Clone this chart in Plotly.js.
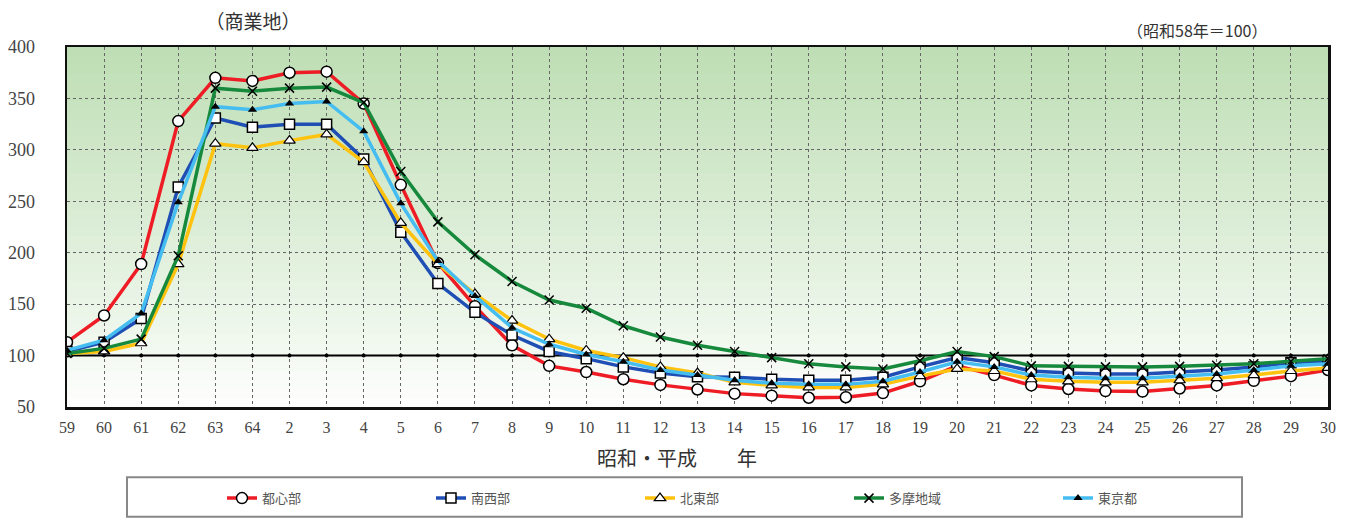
<!DOCTYPE html>
<html>
<head>
<meta charset="utf-8">
<script src="https://cdn.plot.ly/plotly-3.0.1.min.js"></script>
<style>
html,body{margin:0;padding:0;background:#fff;}
#chart{width:1349px;height:525px;}
</style>
</head>
<body>
<div id="chart"></div>
<script>
// Year labels (昭和59 … 平成30)
const categories = ['59','60','61','62','63','64','2','3','4','5','6','7','8','9','10','11','12','13','14','15','16','17','18','19','20','21','22','23','24','25','26','27','28','29','30'];

// 都心部
const toshinbu = [113,139,189,328,370,367,375,376,345,266,190,148,110,90,84,77,71.5,67,63,61,59,59.5,63.5,75,90,81,71,67.5,65.5,65,68,71,75.5,80,86];
// 南西部
const nanseibu = [104,113,136,264,331,322,325,325,291,220,170,142,120,104,97,89,83,79.5,79,77,76,76,79,89,98,93,85,83,82,82,84,86,89,93,95];
// 北東部
const hokutobu = [102,104,112,189,306,302,309,315,288,229,189,160,134,116,105,98,89,83,74,71,69,69,72,80,87,85,77,75,74,74,76,78,81,85,88];
// 多摩地域
const tama = [102,107,116,197,360,357,360,361,346,279,230,198,172,154,146,129,118,110,104,98,92,89,87,95,104,99,90,89.5,89,89,89.5,90.5,92,94.5,97];
// 東京都
const tokyo = [105,115,141,249,342,339,345,347,318,248,192,158,127,111,101,94,86,81,76,73,72,72,75,84,94,89,81,79,78,78,80,82,86,90,92];
// 基準（昭和58年＝100）
const baseline = [100,100,100,100,100,100,100,100,100,100,100,100,100,100,100,100,100,100,100,100,100,100,100,100,100,100,100,100,100,100,100,100,100,100,100];

const seriesNames = ['都心部','南西部','北東部','多摩地域','東京都'];

const traces = [
  {x:categories, y:baseline, mode:'lines+markers', showlegend:false, hoverinfo:'skip',
   line:{color:'#000', width:2}, marker:{color:'#000', size:4}},
  {x:categories, y:toshinbu, name:seriesNames[0], mode:'lines+markers',
   line:{color:'#ee1c24', width:3.5},
   marker:{symbol:'circle', size:11, color:'#fff', line:{color:'#000', width:1.5}}},
  {x:categories, y:nanseibu, name:seriesNames[1], mode:'lines+markers',
   line:{color:'#1f4fb4', width:3.5},
   marker:{symbol:'square', size:10, color:'#fff', line:{color:'#000', width:1.5}}},
  {x:categories, y:hokutobu, name:seriesNames[2], mode:'lines+markers',
   line:{color:'#ffc20e', width:3.5},
   marker:{symbol:'triangle-up', size:10, color:'#fff', line:{color:'#000', width:1.2}}},
  {x:categories, y:tama, name:seriesNames[3], mode:'lines+markers',
   line:{color:'#16893c', width:3.5},
   marker:{symbol:'x-thin', size:9, color:'#000', line:{color:'#000', width:1.5}}},
  {x:categories, y:tokyo, name:seriesNames[4], mode:'lines+markers',
   line:{color:'#45bdf0', width:3.5},
   marker:{symbol:'triangle-up', size:8, color:'#000', line:{color:'#000', width:0}}}
];

// gradient background (green at top fading to white)
const shapes = [];
const N = 40;
for (let i = 0; i < N; i++) {
  const t = (i + 0.5) / N; // 0 bottom .. 1 top
  const f = Math.pow(t, 0.9);
  const r = Math.round(255 + (190 - 255) * f);
  const g = Math.round(255 + (222 - 255) * f);
  const b = Math.round(255 + (180 - 255) * f);
  shapes.push({type:'rect', xref:'x domain', yref:'y domain', x0:0, x1:1, y0:i/N, y1:(i+1)/N,
    fillcolor:`rgb(${r},${g},${b})`, line:{width:0}, layer:'below'});
}
// legend frame (pixel positions converted to paper coordinates)
const px = v => (v - 67) / 1261;
const py = v => (411 - v) / 364;
shapes.push({type:'rect', xref:'paper', yref:'paper', x0:px(127), x1:px(1242), y0:py(482), y1:py(522),
  line:{color:'#888', width:2}, fillcolor:'rgba(0,0,0,0)', layer:'above'});

const serif = '"Liberation Serif","DejaVu Serif",serif';
const cjk = '"Noto Sans CJK JP","Noto Sans CJK SC",sans-serif';

const layout = {
  width:1349, height:525,
  margin:{l:67, r:21, t:47, b:114},
  paper_bgcolor:'#fff', plot_bgcolor:'#fff',
  title:{text:'（商業地）', x:253/1349, xanchor:'center', xref:'container', y:1-22/525, yanchor:'middle',
    yref:'container', font:{family:cjk, size:19, color:'#333'}},
  showlegend:true,
  legend:{orientation:'h', x:px(222), xanchor:'left', y:py(488), yanchor:'top',
    entrywidth:164, entrywidthmode:'pixels',
    borderwidth:0, bgcolor:'rgba(0,0,0,0)',
    font:{family:cjk, size:13, color:'#555'}, itemwidth:30,
    traceorder:'normal'},
  xaxis:{type:'category', range:[0,34], showgrid:true, gridcolor:'#666', griddash:'dot', gridwidth:1,
    showline:true, mirror:true, linecolor:'#111', linewidth:2.5, ticks:'', zeroline:false,
    tickfont:{family:serif, size:16, color:'#444'}, ticklabelstandoff:4},
  yaxis:{range:[50,400], tickvals:[50,100,150,200,250,300,350,400], showgrid:true, gridcolor:'#666',
    griddash:'dot', gridwidth:1, showline:true, mirror:true, linecolor:'#111', linewidth:2.5,
    ticks:'', zeroline:false, tickfont:{family:serif, size:18, color:'#444'}, ticklabelstandoff:26},
  shapes:shapes,
  annotations:[
    {text:'（昭和58年＝100）', xref:'paper', yref:'paper', x:px(1197), y:py(30),
      xanchor:'center', yanchor:'middle', showarrow:false, font:{family:cjk, size:16, color:'#333'}},
    {text:'昭和・平成　　年', xref:'paper', yref:'paper', x:px(677), y:py(462),
      xanchor:'center', yanchor:'middle', showarrow:false, font:{family:cjk, size:20, color:'#333'}}
  ]
};

Plotly.newPlot('chart', traces, layout, {displayModeBar:false, staticPlot:true});
</script>
</body>
</html>
